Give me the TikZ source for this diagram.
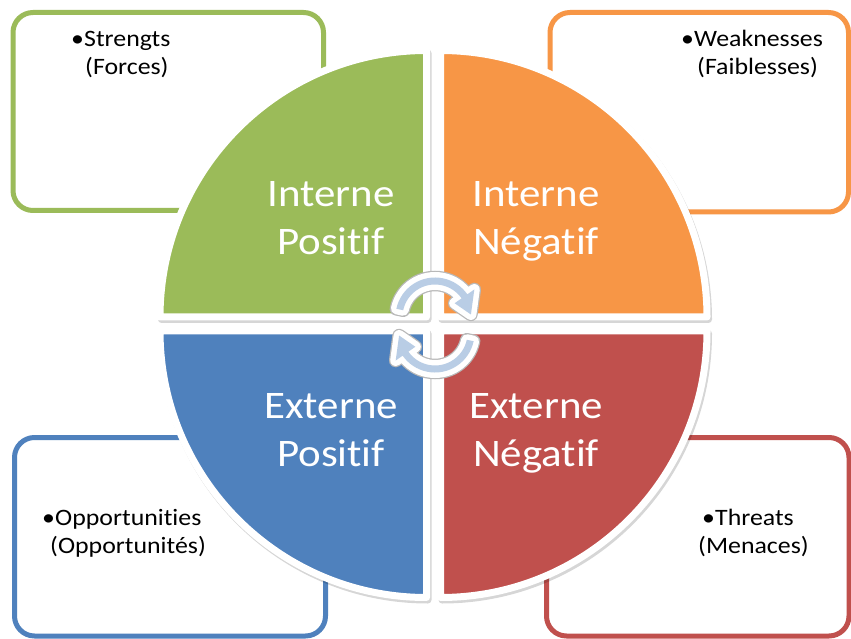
\documentclass[tikz,border=0pt]{standalone}
\usepackage{fontspec}
\setmainfont{Carlito}[Ligatures={NoCommon}]
\usepackage{graphicx}
\definecolor{cgreen}{HTML}{9BBB59}
\definecolor{corange}{HTML}{F79646}
\definecolor{cblue}{HTML}{4F81BD}
\definecolor{cred}{HTML}{C0504D}
\definecolor{arrowblue}{HTML}{B9CDE5}
\newcommand\hs[1]{\scalebox{1.1}[1]{#1}}
\newcommand\arrowpath{(168:39.5) arc[start angle=168,end angle=35,radius=39.5] -- (35:48) -- (4:36) -- (35:24) -- (35:32.5) arc[start angle=35,end angle=168,radius=32.5] -- cycle}
\tikzset{
  quad/.style={draw=white, line width=7pt, line join=round},
  quadshadow/.style={fill=black, draw=black, line width=7pt, line join=round, opacity=0.16},
  box/.style={line width=5pt, rounded corners=20pt, fill=white},
  smalltxt/.style={inner sep=0pt, anchor=base west, font=\fontsize{23.5}{28}\selectfont},
  bigtxt/.style={inner sep=0pt, anchor=base, text=white, font=\fontsize{39}{48}\selectfont},
  arrline/.style={draw=white, line width=11pt, line join=round},
  arrfill/.style={fill=arrowblue},
  arrshadow/.style={draw=black!28, line width=13.5pt, line join=round},
}
\begin{document}
\begin{tikzpicture}[x=1pt,y=1pt]
\useasboundingbox (0,0) rectangle (851,638);
\clip (0,0) rectangle (851,638);
\fill[white] (0,0) rectangle (851,638);
% corner boxes
\draw[box, draw=cgreen] (13,625.5) rectangle (323.5,427.5);
\draw[box, draw=corange] (550,625.5) rectangle (848.5,426);
\draw[box, draw=cblue] (14.5,200.5) rectangle (325.5,2);
\draw[box, draw=cred] (546.5,200.5) rectangle (849,2);
% box texts
\node[smalltxt] (sb) at (71,591) {\hs{•}};
\node[smalltxt] (s1) at (84,591) {\hs{Strengts}};
\node[smalltxt] (s2) at (85,563) {\hs{(Forces)}};
\node[smalltxt] (wb) at (681,591) {\hs{•}};
\node[smalltxt] (w1) at (694,591) {\hs{Weaknesses}};
\node[smalltxt] (w2) at (697,563) {\hs{(Faiblesses)}};
\node[smalltxt] (ob) at (42,113) {\hs{•}};
\node[smalltxt] (o1) at (55,113) {\hs{Opportunities}};
\node[smalltxt] (o2) at (50,85) {\hs{(Opportunités)}};
\node[smalltxt] (tb) at (702,113) {\hs{•}};
\node[smalltxt] (t1) at (715,113) {\hs{Threats}};
\node[smalltxt] (t2) at (698,85) {\hs{(Menaces)}};
% quadrants
\begin{scope}[shift={(433.5,314)}]
  \begin{scope}[shift={(1.5,-2.5)}]
    \path[quadshadow] (-7,7) -- (-273.5,7) arc[start angle=180,end angle=90,radius=266.5] -- cycle;
    \path[quadshadow] (7,7) -- (273.5,7) arc[start angle=0,end angle=90,radius=266.5] -- cycle;
    \path[quadshadow] (-7,-7) -- (-273.5,-7) arc[start angle=180,end angle=270,radius=266.5] -- cycle;
    \path[quadshadow] (7,-7) -- (273.5,-7) arc[start angle=0,end angle=-90,radius=266.5] -- cycle;
  \end{scope}
  \path[quad, fill=cgreen] (-7,7) -- (-273.5,7) arc[start angle=180,end angle=90,radius=266.5] -- cycle;
  \path[quad, fill=corange] (7,7) -- (273.5,7) arc[start angle=0,end angle=90,radius=266.5] -- cycle;
  \path[quad, fill=cblue] (-7,-7) -- (-273.5,-7) arc[start angle=180,end angle=270,radius=266.5] -- cycle;
  \path[quad, fill=cred] (7,-7) -- (273.5,-7) arc[start angle=0,end angle=-90,radius=266.5] -- cycle;
\end{scope}
% quadrant labels
\node[bigtxt] (ip1) at (331,431) {\hs{Interne}};
\node[bigtxt] (ip2) at (331,383) {\hs{Positif}};
\node[bigtxt] (in1) at (536,431) {\hs{Interne}};
\node[bigtxt] (in2) at (536,383) {\hs{Négatif}};
\node[bigtxt] (ep1) at (331,220) {\hs{Externe}};
\node[bigtxt] (ep2) at (331,172) {\hs{Positif}};
\node[bigtxt] (en1) at (536,220) {\hs{Externe}};
\node[bigtxt] (en2) at (536,172) {\hs{Négatif}};
% circular arrows
\begin{scope}[shift={(435,321)}]
  \path[arrshadow] \arrowpath;
  \path[arrline] \arrowpath;
  \path[arrfill] \arrowpath;
\end{scope}
\begin{scope}[shift={(435,305)}, rotate=180]
  \path[arrshadow] \arrowpath;
  \path[arrline] \arrowpath;
  \path[arrfill] \arrowpath;
\end{scope}
\end{tikzpicture}
\end{document}
